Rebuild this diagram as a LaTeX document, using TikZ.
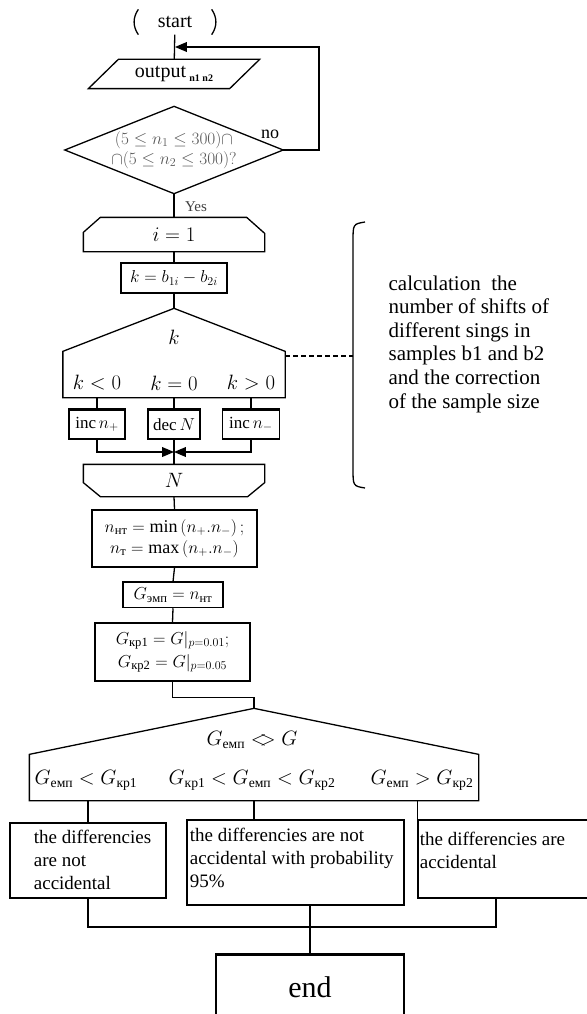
\documentclass[tikz,border=0pt]{standalone}
\usepackage{fontspec}
\setmainfont{Liberation Serif}
\usepackage{amsmath}
\usetikzlibrary{arrows, calc, positioning}

\begin{document}
\begin{tikzpicture}[x=1pt,y=-1pt,line width=1.3pt,
    font=\fontsize{19.5}{22}\selectfont,
    frm/.style={inner sep=0pt},
    blk/.style={draw,inner sep=0pt,line width=1.5pt},
    txt/.style={inner sep=0pt,align=left},
    arr/.style={line width=1.8pt,-triangle 45}]
    \useasboundingbox (0,0) rectangle (586,1014);
    % start, input and check of sample sizes
    \node[frm,minimum width=84pt,minimum height=24pt,font=\fontsize{20}{22}\selectfont] (start) at (175,22) {start};
    \draw ($(start.north west)+(6,0)$) to[bend right=35] ($(start.south west)+(6,0)$);
    \draw ($(start.north east)+(-6,0)$) to[bend left=35] ($(start.south east)+(-6,0)$);
    \node[frm,minimum width=140pt,minimum height=28pt,font=\fontsize{20}{22}\selectfont] (out) at (174,74)
        {output\,\raisebox{-4pt}{\fontsize{10}{10}\selectfont\bfseries n1 n2}};
    \draw ($(out.north west)+(15,0)$) -- ($(out.north east)+(15,0)$) -- ($(out.south east)+(-15,0)$) -- ($(out.south west)+(-15,0)$) -- cycle;
    \node[frm,minimum width=217pt,minimum height=86pt,align=center,text=black!65,font=\fontsize{17.5}{20}\selectfont] (chk) at (174,150)
        {$(5\le n_1\le 300)\cap$\\$\cap(5\le n_2\le 300)?$};
    \draw (chk.north) -- (chk.east) -- (chk.south) -- (chk.west) -- cycle;
    \node[frm,font=\fontsize{18}{20}\selectfont] (no) at (270,134) {no};
    \node[frm,text=black!75,font=\fontsize{15}{17}\selectfont] (yes) at (196,207) {Yes};
    \coordinate (back) at (175,47);
    \draw (start) -- (out);
    \draw[arr] (chk.east) -- ++(36,0) |- (back);
    % loop over the samples
    \node[frm,minimum width=180pt,minimum height=33pt] (init) at (174,234.5) {$i=1$};
    \draw (init.south west) -- ($(init.north west)+(0,15)$) -- ($(init.north west)+(17,0)$) -- ($(init.north east)+(-18,0)$)
        -- ($(init.north east)+(0,16)$) -- (init.south east) -- cycle;
    \draw (chk.south) -- (init.north);
    \node[blk,minimum width=106pt,minimum height=30pt,font=\fontsize{17.5}{20}\selectfont] (kdef) at (174,278) {$k = b_{1i} - b_{2i}$};
    \draw (init.south) -- (kdef.north);
    \node[frm,minimum width=221pt,minimum height=88pt] (ksel) at (174,353) {};
    \draw (ksel.north) -- ($(ksel.north east)+(0,43)$) -- (ksel.south east) -- (ksel.south west) -- ($(ksel.north west)+(0,43)$) -- cycle;
    \draw (kdef.south) -- (ksel.north);
    \node[frm] (kvar) at (174,337) {$k$};
    \node[frm] (klt) at (97,383) {$k<0$};
    \node[frm] (keq) at (174,383) {$k=0$};
    \node[frm] (kgt) at (251,383) {$k>0$};
    \node[blk,minimum width=56pt,minimum height=29pt,font=\fontsize{17}{19}\selectfont] (incp) at (97,424.5) {inc\,$n_+$};
    \node[blk,minimum width=52pt,minimum height=29pt,font=\fontsize{17}{19}\selectfont] (decn) at (174,424.5) {dec\,$N$};
    \node[blk,minimum width=57pt,minimum height=29pt,font=\fontsize{17}{19}\selectfont] (incm) at (251,424.5) {inc\,$n_-$};
    \foreach \b in {incp,decn,incm}
        \draw[line width=2.8pt] (\b.north west) -- (\b.north east);
    \draw (incp.north |- ksel.south) -- (incp.north);
    \draw (decn.north |- ksel.south) -- (decn.north);
    \draw (incm.north |- ksel.south) -- (incm.north);
    \node[frm,minimum width=180pt,minimum height=31pt] (nend) at (174,480.5) {$N$};
    \draw (nend.north west) -- (nend.north east) -- ($(nend.south east)+(0,-14)$) -- ($(nend.south east)+(-17,0)$)
        -- ($(nend.south west)+(17,0)$) -- ($(nend.south west)+(0,-14)$) -- cycle;
    \coordinate (join) at (174,452);
    \draw (decn.south) -- (nend.north);
    \draw[arr] (incp.south) |- (join);
    \draw[arr] (incm.south) |- (join);
    % note on the right
    \coordinate (brc) at (353,356);
    \draw[dash pattern=on 5pt off 3pt] (ksel.north east |- brc) -- (brc);
    \draw (365,222) .. controls (353,224) .. (353,242) -- (353,468) .. controls (353,486) .. (365,488);
    \node[txt,anchor=west,font=\fontsize{21}{23.6}\selectfont] (note) at (388,344)
        {calculation\ \ the\\number of shifts of\\different sings in\\samples b1 and b2\\and the correction\\of the sample size};
    % statistics
    \node[blk,minimum width=165pt,minimum height=57pt,align=center,font=\fontsize{18}{21}\selectfont] (minmax) at (174.5,538.5)
        {$n_{\text{нт}} = \min\left(n_+ . n_-\right);$\\$n_{\text{т}} = \max\left(n_+ . n_-\right)$};
    \draw (nend.south) -- (minmax.north);
    \node[blk,minimum width=100pt,minimum height=25pt,font=\fontsize{18}{21}\selectfont] (gemp) at (173,595) {$G_{\text{эмп}} = n_{\text{нт}}$};
    \draw[line width=2.5pt] (gemp.north west) -- (gemp.north east);
    \draw (minmax.south) -- (gemp.north);
    \node[blk,minimum width=155pt,minimum height=58pt,align=center,font=\fontsize{18}{20}\selectfont] (gkr) at (172.5,652)
        {$G_{\text{кр1}} = G\rvert_{p=0.01};$\\[3pt]$G_{\text{кр2}} = G\rvert_{p=0.05}$};
    \draw (gemp.south) -- (gkr.north);
    % decision
    \node[frm,minimum width=448pt,minimum height=91pt] (gsel) at (254,754.5) {};
    \draw (gsel.north) -- ($(gsel.north east)+(0,46)$) -- (gsel.south east) -- (gsel.south west) -- ($(gsel.north west)+(0,46)$) -- cycle;
    \draw (gkr.south) -- ++(0,16) -| (gsel.north);
    \node[frm] (gcmp) at (252,740) {$G_{\text{емп}} <\!\!> G$};
    \node[frm] (g1) at (86,780) {$G_{\text{емп}} < G_{\text{кр1}}$};
    \node[frm] (g2) at (252,780) {$G_{\text{кр1}} < G_{\text{емп}} < G_{\text{кр2}}$};
    \node[frm] (g3) at (422,780) {$G_{\text{емп}} > G_{\text{кр2}}$};
    \node[blk,minimum width=156pt,minimum height=75pt] (r1) at (88,860.5) {};
    \node[blk,minimum width=217pt,minimum height=85pt] (r2) at (295.5,862.5) {};
    \node[blk,minimum width=182pt,minimum height=78pt] (r3) at (509,859) {};
    \node[txt,anchor=north west,font=\fontsize{19}{23}\selectfont] (t1) at ([xshift=24pt,yshift=-7pt]r1.north west)
        {the differencies\\are not\\accidental};
    \node[txt,anchor=north west,font=\fontsize{19}{23}\selectfont] (t2) at ([xshift=3pt,yshift=-8pt]r2.north west)
        {the differencies are not\\accidental with probability\\95\%};
    \node[txt,anchor=north west,font=\fontsize{19}{23}\selectfont] (t3) at ([xshift=2pt,yshift=-12pt]r3.north west)
        {the differencies are\\accidental};
    \draw (r1.north |- gsel.south) -- (r1.north);
    \draw (gsel.south) -- (gsel.south |- r2.north);
    \draw (r3.north west |- gsel.south) -- (r3.north west);
    % end
    \node[blk,minimum width=188pt,minimum height=64pt,font=\fontsize{30}{32}\selectfont] (fin) at (310,987) {end};
    \draw[line width=3pt] (fin.north west) -- (fin.north east);
    \coordinate (bus) at (310,927);
    \draw (r1.south) |- (bus) -| ([xshift=-13pt]r3.south);
    \draw (bus) -- (bus |- r2.south);
    \draw (bus) -- (fin.north);
\end{tikzpicture}
\end{document}
